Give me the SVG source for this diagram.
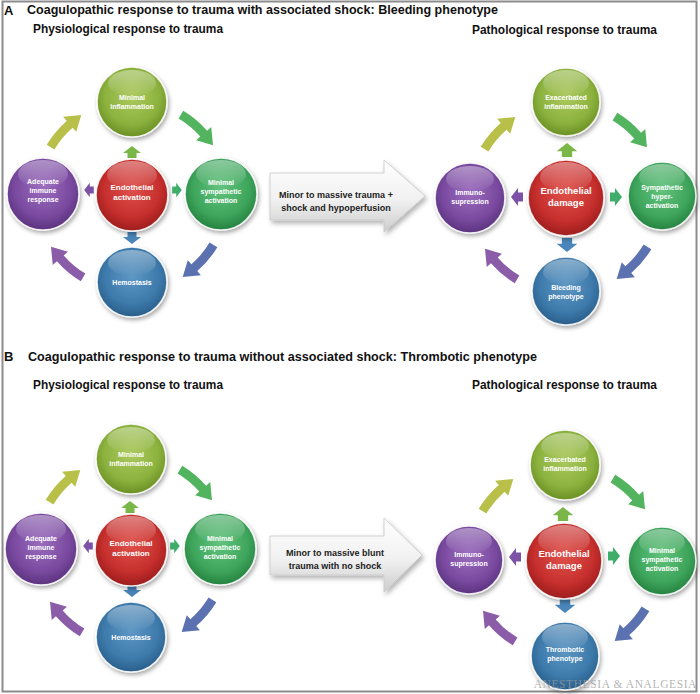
<svg xmlns="http://www.w3.org/2000/svg" xmlns:xlink="http://www.w3.org/1999/xlink" width="700" height="694" viewBox="0 0 700 694">
<defs>
<style>
.h{font-family:"Liberation Sans",Arial,sans-serif;font-weight:bold;fill:#111}
.t{font-family:"Liberation Sans",Arial,sans-serif;font-weight:bold;fill:#fff;text-anchor:middle;font-size:7px}
.tc{font-family:"Liberation Sans",Arial,sans-serif;font-weight:bold;fill:#fff;text-anchor:middle}
.ta{font-family:"Liberation Sans",Arial,sans-serif;font-weight:bold;fill:#222;text-anchor:middle;font-size:9px}
.s{filter:url(#sh);stroke:#fff;stroke-opacity:0.85;stroke-width:1.6}
.hl{fill:url(#gHL)}
.big{fill:url(#gArrow);stroke:#c8c8c8;stroke-width:0.8;filter:url(#sh2)}
</style>
<filter id="sh" x="-30%" y="-30%" width="160%" height="160%"><feDropShadow dx="1.5" dy="2.5" stdDeviation="2" flood-color="#000" flood-opacity="0.35"/></filter>
<filter id="sh2" x="-20%" y="-30%" width="140%" height="170%"><feDropShadow dx="2" dy="3" stdDeviation="2.5" flood-color="#000" flood-opacity="0.3"/></filter>
<radialGradient id="gY" cx="50%" cy="42%" r="60%"><stop offset="0" stop-color="#acc95e"/><stop offset="0.65" stop-color="#8cb23e"/><stop offset="1" stop-color="#678c22"/></radialGradient>
<radialGradient id="gR" cx="50%" cy="42%" r="60%"><stop offset="0" stop-color="#e0514b"/><stop offset="0.65" stop-color="#c62f2d"/><stop offset="1" stop-color="#981b1b"/></radialGradient>
<radialGradient id="gP" cx="50%" cy="42%" r="60%"><stop offset="0" stop-color="#9a6cbd"/><stop offset="0.65" stop-color="#7a4aa0"/><stop offset="1" stop-color="#58307c"/></radialGradient>
<radialGradient id="gG" cx="50%" cy="42%" r="60%"><stop offset="0" stop-color="#62c37c"/><stop offset="0.65" stop-color="#3ea55c"/><stop offset="1" stop-color="#237f3e"/></radialGradient>
<radialGradient id="gB" cx="50%" cy="42%" r="60%"><stop offset="0" stop-color="#5e97c4"/><stop offset="0.65" stop-color="#3d7aab"/><stop offset="1" stop-color="#275c88"/></radialGradient>
<linearGradient id="gHL" x1="0" y1="0" x2="0" y2="1"><stop offset="0" stop-color="#fff" stop-opacity="0.4"/><stop offset="1" stop-color="#fff" stop-opacity="0"/></linearGradient>
<linearGradient id="gArrow" x1="0" y1="0" x2="0" y2="1"><stop offset="0" stop-color="#ffffff"/><stop offset="0.55" stop-color="#f1f1f1"/><stop offset="1" stop-color="#cdcdcd"/></linearGradient>
<path id="ca" d="M85.29,51.24 A99.5,99.5 0 0 1 65.28,75.09 L68.89,79.24 L50.7,81 L55.77,64.15 L59.38,68.3 A90.5,90.5 0 0 0 77.58,46.61 Z"/>
<path id="sa" d="M0,-6 L9,1 L4.5,1 L4.5,6 L-4.5,6 L-4.5,1 L-9,1 Z"/>
</defs>
<rect x="0" y="0" width="700" height="694" fill="#fff"/>
<rect x="2.5" y="1.5" width="694" height="690" fill="none" stroke="#8c8c8c" stroke-width="2"/>

<g id="headers">
<text class="h" x="4" y="15" font-size="13">A</text>
<text class="h" x="27" y="14" font-size="12.5" textLength="471" lengthAdjust="spacingAndGlyphs">Coagulopathic response to trauma with associated shock: Bleeding phenotype</text>
<text class="h" x="33" y="33" font-size="12" textLength="190" lengthAdjust="spacingAndGlyphs">Physiological response to trauma</text>
<text class="h" x="472" y="34" font-size="12" textLength="185" lengthAdjust="spacingAndGlyphs">Pathological response to trauma</text>
<text class="h" x="4" y="361" font-size="13">B</text>
<text class="h" x="28" y="361" font-size="12.5" textLength="509" lengthAdjust="spacingAndGlyphs">Coagulopathic response to trauma without associated shock: Thrombotic phenotype</text>
<text class="h" x="33" y="389" font-size="12" textLength="190" lengthAdjust="spacingAndGlyphs">Physiological response to trauma</text>
<text class="h" x="472" y="389" font-size="12" textLength="185" lengthAdjust="spacingAndGlyphs">Pathological response to trauma</text>
</g>

<g id="connectors">
<use href="#ca" transform="translate(132,196)" fill="#5b71b0"/>
<use href="#ca" transform="translate(132,196) rotate(90)" fill="#8b5ca8"/>
<use href="#ca" transform="translate(132,196) rotate(180)" fill="#b9c04a"/>
<use href="#ca" transform="translate(132,196) rotate(270)" fill="#52b45e"/>
<use href="#sa" transform="translate(132,152)" fill="#7ab648"/>
<use href="#sa" transform="translate(132,238) rotate(180)" fill="#4a86ba"/>
<use href="#sa" transform="translate(89,190) rotate(-90) scale(0.8)" fill="#7d52a6"/>
<use href="#sa" transform="translate(177,190) rotate(90) scale(0.8)" fill="#3fae6a"/>
<use href="#ca" transform="translate(566,198)" fill="#5b71b0"/>
<use href="#ca" transform="translate(566,198) rotate(90)" fill="#8b5ca8"/>
<use href="#ca" transform="translate(566,198) rotate(180)" fill="#b9c04a"/>
<use href="#ca" transform="translate(566,198) rotate(270)" fill="#52b45e"/>
<use href="#sa" transform="translate(567,150) scale(1.15)" fill="#7ab648"/>
<use href="#sa" transform="translate(567,245) rotate(180) scale(1.15)" fill="#4a86ba"/>
<use href="#sa" transform="translate(517,197) rotate(-90)" fill="#7d52a6"/>
<use href="#sa" transform="translate(616,197) rotate(90)" fill="#3fae6a"/>
<use href="#ca" transform="translate(131,551)" fill="#5b71b0"/>
<use href="#ca" transform="translate(131,551) rotate(90)" fill="#8b5ca8"/>
<use href="#ca" transform="translate(131,551) rotate(180)" fill="#b9c04a"/>
<use href="#ca" transform="translate(131,551) rotate(270)" fill="#52b45e"/>
<use href="#sa" transform="translate(130,507)" fill="#7ab648"/>
<use href="#sa" transform="translate(132,591) rotate(180)" fill="#4a86ba"/>
<use href="#sa" transform="translate(88,546) rotate(-90) scale(0.8)" fill="#7d52a6"/>
<use href="#sa" transform="translate(175,546) rotate(90) scale(0.8)" fill="#3fae6a"/>
<use href="#ca" transform="translate(564,560)" fill="#5b71b0"/>
<use href="#ca" transform="translate(564,560) rotate(90)" fill="#8b5ca8"/>
<use href="#ca" transform="translate(564,560) rotate(180)" fill="#b9c04a"/>
<use href="#ca" transform="translate(564,560) rotate(270)" fill="#52b45e"/>
<use href="#sa" transform="translate(563,514) scale(1.15)" fill="#7ab648"/>
<use href="#sa" transform="translate(565,606) rotate(180) scale(1.15)" fill="#4a86ba"/>
<use href="#sa" transform="translate(515,557) rotate(-90)" fill="#7d52a6"/>
<use href="#sa" transform="translate(614,556) rotate(90)" fill="#3fae6a"/>
</g>

<g id="transition-A">
<path class="big" d="M270,173 L384,173 L384,160 L425,196 L384,232 L384,220 L270,220 Z"/>
<text class="ta" x="336" y="198">Minor to massive trauma +</text>
<text class="ta" x="336" y="211">shock and hypoperfusion</text>
</g>
<g id="transition-B">
<path class="big" d="M270,536 L384,536 L384,518 L422,555 L384,592 L384,575 L270,575 Z"/>
<text class="ta" x="335" y="556">Minor to massive blunt</text>
<text class="ta" x="335" y="569">trauma with no shock</text>
</g>

<g id="a-phys-inflammation">
<circle class="s" cx="132" cy="102" r="35" fill="url(#gY)"/>
<ellipse class="hl" cx="132" cy="83" rx="24" ry="13"/>
<text class="t" x="132" y="100">Minimal</text><text class="t" x="132" y="109">inflammation</text>
</g>
<g id="a-phys-endothelial">
<circle class="s" cx="132" cy="195" r="36" fill="url(#gR)"/>
<ellipse class="hl" cx="132" cy="175" rx="25" ry="14"/>
<text class="tc" x="132" y="190" font-size="8">Endothelial</text><text class="tc" x="132" y="200" font-size="8">activation</text>
</g>
<g id="a-phys-immune">
<circle class="s" cx="43" cy="194" r="36" fill="url(#gP)"/>
<ellipse class="hl" cx="43" cy="174" rx="25" ry="14"/>
<text class="t" x="43" y="184">Adequate</text><text class="t" x="43" y="193">immune</text><text class="t" x="43" y="202">response</text>
</g>
<g id="a-phys-sympathetic">
<circle class="s" cx="221" cy="194" r="36" fill="url(#gG)"/>
<ellipse class="hl" cx="221" cy="174" rx="25" ry="14"/>
<text class="t" x="221" y="185">Minimal</text><text class="t" x="221" y="194">sympathetic</text><text class="t" x="221" y="203">activation</text>
</g>
<g id="a-phys-hemostasis">
<circle class="s" cx="132" cy="282" r="35" fill="url(#gB)"/>
<ellipse class="hl" cx="132" cy="263" rx="24" ry="13"/>
<text class="t" x="132" y="284.5">Hemostasis</text>
</g>

<g id="a-path-inflammation">
<circle class="s" cx="566" cy="102" r="34" fill="url(#gY)"/>
<ellipse class="hl" cx="566" cy="83" rx="23" ry="13"/>
<text class="t" x="566" y="99.5">Exacerbated</text><text class="t" x="566" y="108.5">inflammation</text>
</g>
<g id="a-path-endothelial">
<circle class="s" cx="566" cy="198" r="38" fill="url(#gR)"/>
<ellipse class="hl" cx="566" cy="177" rx="26" ry="15"/>
<text class="tc" x="566" y="193.5" font-size="9.5">Endothelial</text><text class="tc" x="566" y="205.5" font-size="9.5">damage</text>
</g>
<g id="a-path-immuno">
<circle class="s" cx="470" cy="198" r="35" fill="url(#gP)"/>
<ellipse class="hl" cx="470" cy="179" rx="24" ry="13"/>
<text class="t" x="470" y="195">Immuno-</text><text class="t" x="470" y="204">supression</text>
</g>
<g id="a-path-sympathetic">
<circle class="s" cx="662" cy="196" r="34" fill="url(#gG)"/>
<ellipse class="hl" cx="662" cy="177" rx="23" ry="13"/>
<text class="t" x="662" y="190">Sympathetic</text><text class="t" x="662" y="199">hyper-</text><text class="t" x="662" y="208">activation</text>
</g>
<g id="a-path-bleeding">
<circle class="s" cx="566" cy="291" r="34" fill="url(#gB)"/>
<ellipse class="hl" cx="566" cy="272" rx="23" ry="13"/>
<text class="t" x="566" y="289.5">Bleeding</text><text class="t" x="566" y="298.5">phenotype</text>
</g>

<g id="b-phys-inflammation">
<circle class="s" cx="131" cy="459" r="35" fill="url(#gY)"/>
<ellipse class="hl" cx="131" cy="440" rx="24" ry="13"/>
<text class="t" x="131" y="457">Minimal</text><text class="t" x="131" y="466">inflammation</text>
</g>
<g id="b-phys-endothelial">
<circle class="s" cx="131" cy="550" r="36" fill="url(#gR)"/>
<ellipse class="hl" cx="131" cy="530" rx="25" ry="14"/>
<text class="tc" x="131" y="546" font-size="8">Endothelial</text><text class="tc" x="131" y="556" font-size="8">activation</text>
</g>
<g id="b-phys-immune">
<circle class="s" cx="41" cy="549" r="36" fill="url(#gP)"/>
<ellipse class="hl" cx="41" cy="529" rx="25" ry="14"/>
<text class="t" x="41" y="541">Adequate</text><text class="t" x="41" y="550">immune</text><text class="t" x="41" y="559">response</text>
</g>
<g id="b-phys-sympathetic">
<circle class="s" cx="220" cy="549" r="36" fill="url(#gG)"/>
<ellipse class="hl" cx="220" cy="529" rx="25" ry="14"/>
<text class="t" x="220" y="541">Minimal</text><text class="t" x="220" y="550">sympathetic</text><text class="t" x="220" y="559">activation</text>
</g>
<g id="b-phys-hemostasis">
<circle class="s" cx="131" cy="637" r="35" fill="url(#gB)"/>
<ellipse class="hl" cx="131" cy="618" rx="24" ry="13"/>
<text class="t" x="131" y="640">Hemostasis</text>
</g>

<g id="b-path-inflammation">
<circle class="s" cx="565" cy="465" r="35" fill="url(#gY)"/>
<ellipse class="hl" cx="565" cy="446" rx="24" ry="13"/>
<text class="t" x="565" y="462">Exacerbated</text><text class="t" x="565" y="471">inflammation</text>
</g>
<g id="b-path-endothelial">
<circle class="s" cx="564" cy="561" r="38" fill="url(#gR)"/>
<ellipse class="hl" cx="564" cy="540" rx="26" ry="15"/>
<text class="tc" x="564" y="556.5" font-size="9.5">Endothelial</text><text class="tc" x="564" y="568.5" font-size="9.5">damage</text>
</g>
<g id="b-path-immuno">
<circle class="s" cx="469" cy="560" r="34" fill="url(#gP)"/>
<ellipse class="hl" cx="469" cy="541" rx="23" ry="13"/>
<text class="t" x="469" y="557">Immuno-</text><text class="t" x="469" y="566">supression</text>
</g>
<g id="b-path-sympathetic">
<circle class="s" cx="662" cy="561" r="34" fill="url(#gG)"/>
<ellipse class="hl" cx="662" cy="542" rx="23" ry="13"/>
<text class="t" x="662" y="552.5">Minimal</text><text class="t" x="662" y="561.5">sympathetic</text><text class="t" x="662" y="570.5">activation</text>
</g>
<g id="b-path-thrombotic">
<circle class="s" cx="565" cy="656" r="34" fill="url(#gB)"/>
<ellipse class="hl" cx="565" cy="637" rx="23" ry="13"/>
<text class="t" x="565" y="652">Thrombotic</text><text class="t" x="565" y="661">phenotype</text>
</g>

<text x="697" y="688" text-anchor="end" font-family="Liberation Serif,Times New Roman,serif" font-size="11.5" letter-spacing="0.6" fill="#9a9a9a" fill-opacity="0.75">ANESTHESIA &amp; ANALGESIA</text>
</svg>
